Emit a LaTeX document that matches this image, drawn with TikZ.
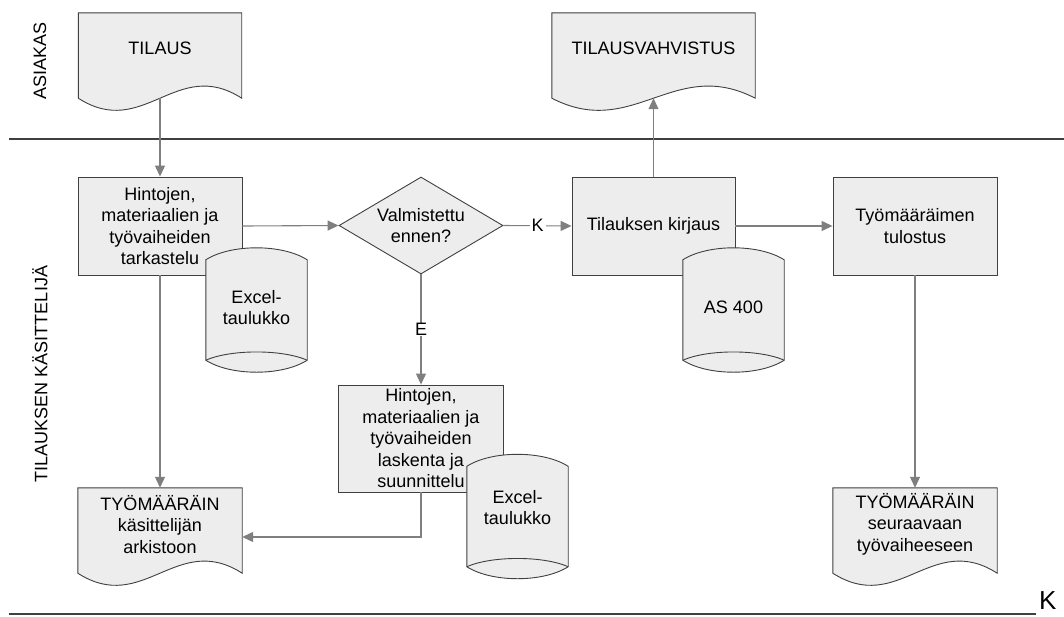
\documentclass[tikz,border=0pt]{standalone}
\usepackage{fontspec}
\setmainfont{Liberation Sans}
\usetikzlibrary{shapes.geometric,arrows.meta,calc}

\definecolor{shapefill}{HTML}{EDEDED}
\definecolor{edgegray}{HTML}{404040}
\definecolor{flowgray}{HTML}{7F7F7F}

\tikzset{
  every node/.style={font=\fontsize{18}{21.5}\selectfont, text=black},
  outline/.style={draw=edgegray, fill=shapefill, line width=0.9pt, line join=miter},
  procbox/.style={outline, minimum width=164pt, minimum height=98pt, align=center, inner sep=0pt},
  decision/.style={diamond, outline, minimum width=164pt, minimum height=97pt, aspect=1.69, align=center, inner sep=0pt},
  docarea/.style={minimum width=#1, minimum height=85pt, inner sep=0pt},
  cylarea/.style={minimum width=101pt, minimum height=124pt, inner sep=0pt},
  shapetext/.style={align=center, inner sep=0pt},
  flow/.style={draw=flowgray, line width=1.1pt, -{Triangle[length=11pt,width=10pt]}},
  edgelabel/.style={fill=white, inner xsep=2pt, inner ysep=0pt},
  lane/.style={draw=edgegray, line width=1.3pt},
  lanetitle/.style={rotate=90, inner sep=0pt}
}

% document symbol: straight top and sides, wavy bottom edge
\newcommand\docoutline[2]{%
  \filldraw[outline] (#1.south west) -- (#1.north west) -- (#1.north east) -- (#1.south east)
    .. controls +(-0.4*#2,-42) and +(0.4*#2,42) .. (#1.south west) -- cycle;}

% data store symbol: arched top, lens-shaped bottom
\newcommand\storeoutline[1]{%
  \filldraw[outline] ($(#1.north west)+(0,12)$)
    .. controls +(25,-16) and +(-25,-16) .. ($(#1.north east)+(0,12)$)
    -- ($(#1.south east)+(0,-12)$)
    .. controls +(-25,16) and +(25,16) .. ($(#1.south west)+(0,-12)$) -- cycle;
  \draw[outline, fill=none] ($(#1.south west)+(0,-12)$)
    .. controls +(25,-11) and +(-25,-11) .. ($(#1.south east)+(0,-12)$);}

\begin{document}
\begin{tikzpicture}[x=1pt,y=-1pt]
\useasboundingbox (0,0) rectangle (1064,616);

% swimlane separators and titles
\draw[lane] (9,139) -- (1064,139);
\draw[lane] (9,614) -- (1036,614);
\node[anchor=base west, inner sep=0pt, font=\fontsize{26}{29}\selectfont] (pagemark) at (1039,609.5) {K};
\node[lanetitle] (lane1) at (40,61) {ASIAKAS};
\node[lanetitle] (lane2) at (40,374) {TILAUKSEN KÄSITTELIJÄ};

% documents
\node[docarea=163pt] (order) at (160,55.5) {};
\node[docarea=203pt] (confirm) at (653.5,55.5) {};
\node[docarea=164pt] (archive) at (160,530.5) {};
\node[docarea=164pt] (nextstage) at (915,530.5) {};
\docoutline{order}{163}
\docoutline{confirm}{203}
\docoutline{archive}{164}
\docoutline{nextstage}{164}
\node[shapetext] (order-text) at (160,48) {TILAUS};
\node[shapetext] (confirm-text) at (653.5,48) {TILAUSVAHVISTUS};
\node[shapetext] (archive-text) at (160,524.5) {TYÖMÄÄRÄIN\\käsittelijän\\arkistoon};
\node[shapetext] (nextstage-text) at (915,524) {TYÖMÄÄRÄIN\\seuraavaan\\työvaiheeseen};

% process steps and decision
\node[procbox] (check) at (160,226) {Hintojen,\\materiaalien ja\\työvaiheiden\\tarkastelu};
\node[decision] (made) at (421,225.5) {Valmistettu\\ennen?};
\node[procbox, minimum width=163pt] (entry) at (653.5,226) {Tilauksen kirjaus};
\node[procbox] (print) at (915,226) {Työmääräimen\\tulostus};
\node[procbox, minimum width=165pt, minimum height=107pt] (plan) at (421,438.5) {Hintojen,\\materiaalien ja\\työvaiheiden\\laskenta ja\\suunnittelu};

% data stores
\node[cylarea] (sheet1) at (256.5,310) {};
\node[cylarea] (as400) at (733.5,310) {};
\node[cylarea] (sheet2) at (517.5,516.5) {};
\storeoutline{sheet1}
\storeoutline{as400}
\storeoutline{sheet2}
\node[shapetext] (sheet1-text) at (256.5,307.5) {Excel-\\taulukko};
\node[shapetext] (as400-text) at (733.5,307) {AS 400};
\node[shapetext] (sheet2-text) at (517.5,507.5) {Excel-\\taulukko};

% flow connectors
\draw[flow] (order.south) -- (check.north);
\draw[flow] (check.east) -- (made.west);
\draw[flow] (made.east) -- node[edgelabel] {K} (entry.west);
\draw[flow] (made.south) -- node[edgelabel] {E} (plan.north);
\draw[flow] (entry.north) -- (confirm.south);
\draw[flow] (entry.east) -- (print.west);
\draw[flow] (print.south) -- (nextstage.north);
\draw[flow] (check.south) -- (archive.north);
\draw[flow] (plan.south) |- ([yshift=-6.5pt]archive.east);
\end{tikzpicture}
\end{document}
